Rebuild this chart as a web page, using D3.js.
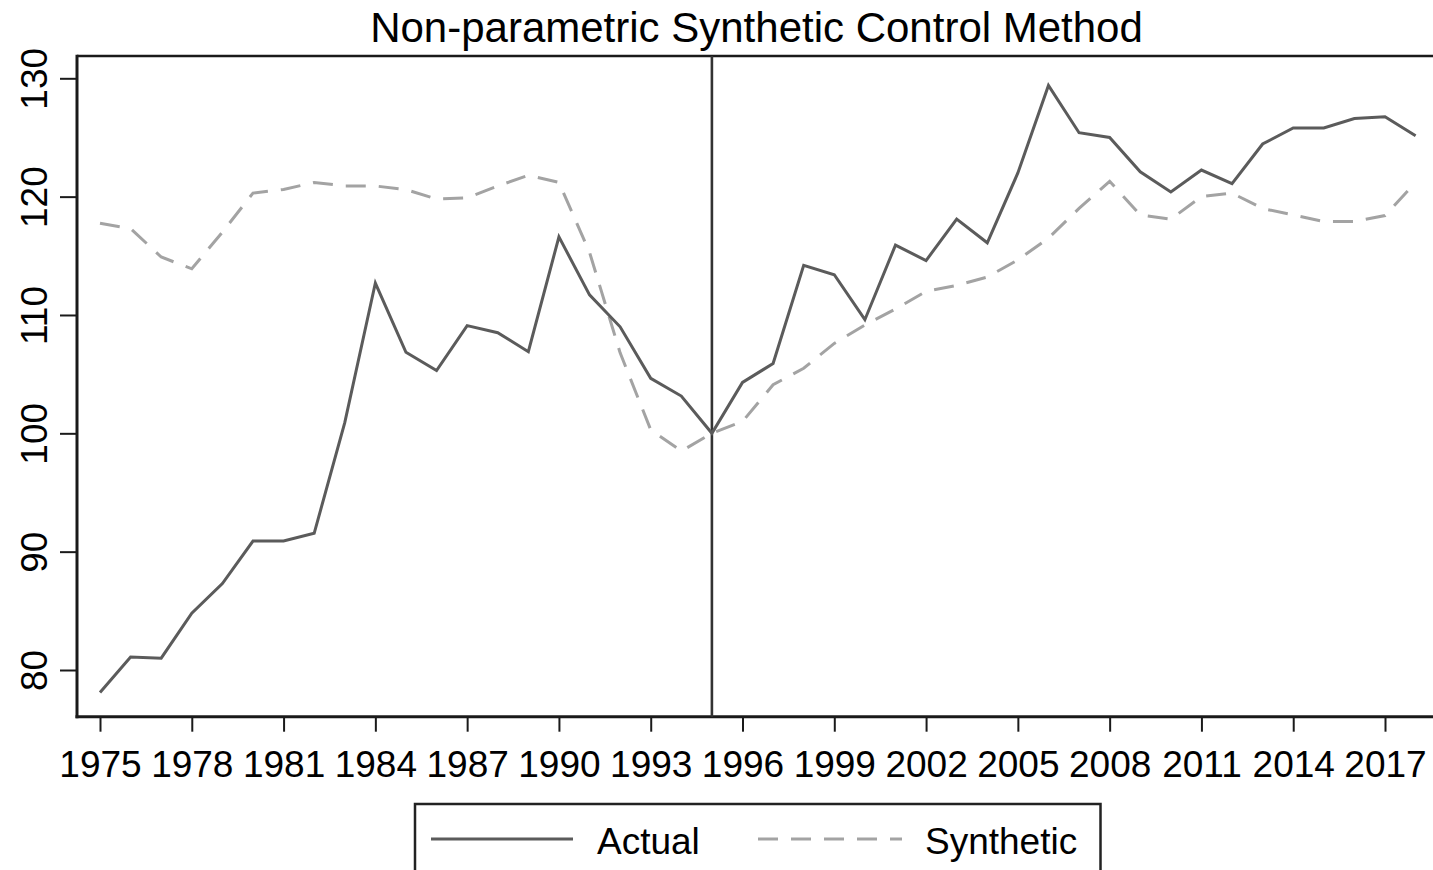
<!DOCTYPE html>
<html>
<head>
<meta charset="utf-8">
<script src="https://cdn.jsdelivr.net/npm/d3@7"></script>
<style>
  html, body { margin: 0; padding: 0; background: #fff; overflow: hidden; }
  svg { display: block; font-family: "Liberation Sans", Arial, sans-serif; }
</style>
</head>
<body>
<svg id="chart" width="1433" height="870"></svg>
<script>
const years = d3.range(1975, 2019);
const actual = [
  78.1, 81.1, 81.0, 84.8, 87.3, 90.9, 90.9, 91.55, 100.9, 112.7,
  106.85, 105.3, 109.1, 108.5, 106.9, 116.6, 111.7, 109.0, 104.65, 103.15,
  100.0, 104.3, 105.9, 114.2, 113.4, 109.6, 115.9, 114.6, 118.1, 116.1,
  122.0, 129.4, 125.4, 125.0, 122.1, 120.4, 122.25, 121.1, 124.45, 125.8,
  125.8, 126.6, 126.75, 125.15
];
const synthetic = [
  117.75, 117.3, 114.9, 113.9, 117.0, 120.3, 120.6, 121.2, 120.9, 120.9,
  120.6, 119.8, 119.9, 120.9, 121.8, 121.2, 115.3, 106.8, 100.3, 98.5,
  100.0, 101.0, 104.1, 105.5, 107.6, 109.15, 110.5, 112.0, 112.5, 113.2,
  114.65, 116.5, 119.0, 121.3, 118.45, 118.1, 120.0, 120.3, 119.0, 118.45,
  117.9, 117.9, 118.4, 121.2
];
const xTicks = d3.range(1975, 2018, 3);
const yTicks = [80, 90, 100, 110, 120, 130];
const treatmentYear = 1995;
const titleText = "Non-parametric Synthetic Control Method";
const seriesNames = ["Actual", "Synthetic"];

(function () {
const svg = d3.select("#chart");
const pLeft = 77, pTop = 56, pBottom = 716.7, pRight = 1433;

const x = d3.scaleLinear().domain([1975, 2018]).range([100, 1415.6]);
const y = d3.scaleLinear().domain([80, 130]).range([670, 78.3]);

const axisColor = "#1a1a1a";

svg.append("text")
  .attr("x", 756.5).attr("y", 41.5)
  .attr("text-anchor", "middle")
  .attr("font-size", 42)
  .attr("fill", "#000")
  .text(titleText);

svg.append("line")
  .attr("x1", pLeft).attr("x2", pRight)
  .attr("y1", pTop).attr("y2", pTop)
  .attr("stroke", axisColor).attr("stroke-width", 2.5);

const yAxis = svg.append("g")
  .attr("transform", `translate(${pLeft},0)`)
  .call(d3.axisLeft(y).tickValues(yTicks).tickSize(17).tickSizeOuter(0).tickFormat(d3.format("d")));
yAxis.select(".domain").remove();
yAxis.selectAll(".tick line").attr("stroke", axisColor).attr("stroke-width", 2);
yAxis.selectAll(".tick text")
  .attr("font-size", 37)
  .attr("fill", "#000")
  .attr("text-anchor", "middle")
  .attr("x", null).attr("dy", null)
  .attr("transform", `translate(-30,0) rotate(-90)`);
svg.append("line")
  .attr("x1", pLeft).attr("x2", pLeft)
  .attr("y1", pTop - 1.2).attr("y2", pBottom + 1.5)
  .attr("stroke", axisColor).attr("stroke-width", 3);

const xAxis = svg.append("g")
  .attr("transform", `translate(0,${pBottom})`)
  .call(d3.axisBottom(x).tickValues(xTicks).tickSize(15).tickSizeOuter(0).tickFormat(d3.format("d")));
xAxis.select(".domain").remove();
xAxis.selectAll(".tick line").attr("stroke", axisColor).attr("stroke-width", 2);
xAxis.selectAll(".tick text")
  .attr("font-size", 37)
  .attr("fill", "#000")
  .attr("dy", null)
  .attr("y", 60);
svg.append("line")
  .attr("x1", pLeft - 1.5).attr("x2", pRight)
  .attr("y1", pBottom).attr("y2", pBottom)
  .attr("stroke", axisColor).attr("stroke-width", 3);

svg.append("line")
  .attr("x1", x(treatmentYear)).attr("x2", x(treatmentYear))
  .attr("y1", pTop).attr("y2", pBottom)
  .attr("stroke", "#333").attr("stroke-width", 2.6);

const line = d3.line().x((d, i) => x(years[i])).y(d => y(d));

svg.append("path")
  .datum(synthetic)
  .attr("d", line)
  .attr("fill", "none")
  .attr("stroke", "#a3a3a3")
  .attr("stroke-width", 3)
  .attr("stroke-dasharray", "20,13");

svg.append("path")
  .datum(actual)
  .attr("d", line)
  .attr("fill", "none")
  .attr("stroke", "#5b5b5b")
  .attr("stroke-width", 3);

const lg = svg.append("g");
lg.append("rect")
  .attr("x", 415).attr("y", 804)
  .attr("width", 685.5).attr("height", 100)
  .attr("fill", "#fff")
  .attr("stroke", "#222").attr("stroke-width", 2.5);
lg.append("line")
  .attr("x1", 431).attr("x2", 573).attr("y1", 839).attr("y2", 839)
  .attr("stroke", "#5b5b5b").attr("stroke-width", 3);
lg.append("text")
  .attr("x", 597).attr("y", 854)
  .attr("font-size", 37).attr("fill", "#000")
  .text(seriesNames[0]);
lg.append("line")
  .attr("x1", 758).attr("x2", 902).attr("y1", 839).attr("y2", 839)
  .attr("stroke", "#a3a3a3").attr("stroke-width", 3)
  .attr("stroke-dasharray", "20,13");
lg.append("text")
  .attr("x", 925).attr("y", 854)
  .attr("font-size", 37).attr("fill", "#000")
  .text(seriesNames[1]);
})();
</script>
</body>
</html>
